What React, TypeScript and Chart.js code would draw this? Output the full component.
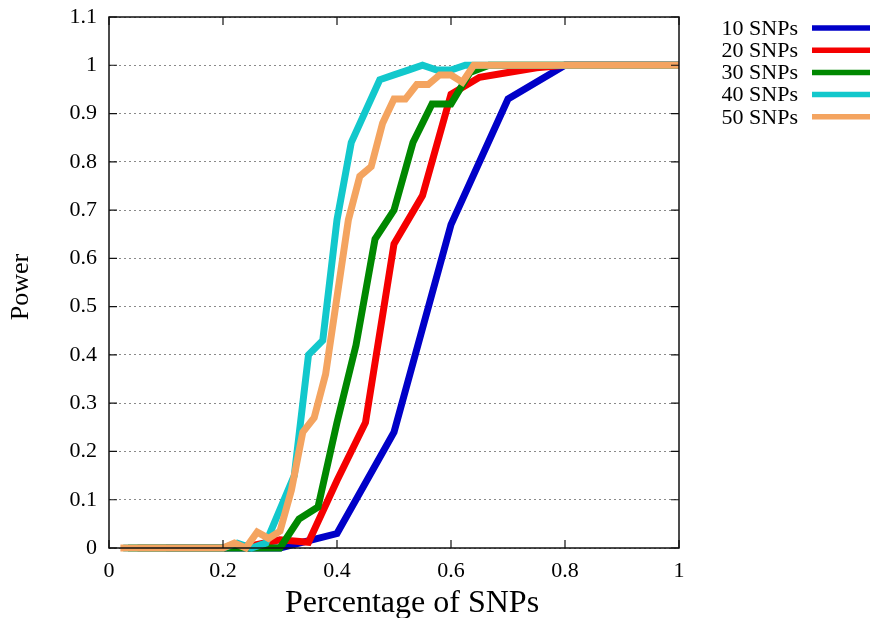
import React, { useEffect, useRef } from "react";
import { Chart, registerables } from "chart.js";

Chart.register(...registerables);

// ---------- data ----------
const seriesLabels = ["10 SNPs", "20 SNPs", "30 SNPs", "40 SNPs", "50 SNPs"];
const seriesColors = ["#0000c8", "#f50000", "#008800", "#12c8cc", "#f4a460"];

const x10 = [0.1, 0.2, 0.3, 0.4, 0.5, 0.6, 0.7, 0.8, 0.9, 1.0];
const power10 = [0, 0, 0, 0.03, 0.24, 0.67, 0.93, 1, 1, 1];

const x20 = [0.05, 0.1, 0.15, 0.2, 0.25, 0.3, 0.35, 0.4, 0.45, 0.5, 0.55, 0.6, 0.65, 0.7, 0.75, 0.8, 0.85, 0.9, 0.95, 1.0];
const power20 = [0, 0, 0, 0, 0.005, 0.017, 0.012, 0.14, 0.26, 0.63, 0.73, 0.94, 0.975, 0.985, 0.995, 1, 1, 1, 1, 1];

const x30 = [0.0333, 0.0667, 0.1, 0.1333, 0.1667, 0.2, 0.2333, 0.2667, 0.3, 0.3333, 0.3667, 0.4, 0.4333, 0.4667, 0.5, 0.5333, 0.5667, 0.6, 0.6333, 0.6667, 0.7, 0.7333, 0.7667, 0.8, 0.8333, 0.8667, 0.9, 0.9333, 0.9667, 1.0];
const power30 = [0, 0, 0, 0, 0, 0, 0, 0, 0, 0.06, 0.085, 0.26, 0.42, 0.64, 0.7, 0.84, 0.92, 0.92, 0.985, 1, 1, 1, 1, 1, 1, 1, 1, 1, 1, 1];

const x40 = [0.025, 0.05, 0.075, 0.1, 0.125, 0.15, 0.175, 0.2, 0.225, 0.25, 0.275, 0.3, 0.325, 0.35, 0.375, 0.4, 0.425, 0.45, 0.475, 0.5, 0.525, 0.55, 0.575, 0.6, 0.625, 0.65, 0.675, 0.7, 0.725, 0.75, 0.775, 0.8, 0.825, 0.85, 0.875, 0.9, 0.925, 0.95, 0.975, 1.0];
const power40 = [0, 0, 0, 0, 0, 0, 0, 0, 0.01, 0, 0.01, 0.08, 0.15, 0.4, 0.43, 0.68, 0.84, 0.905, 0.97, 0.98, 0.99, 1, 0.99, 0.99, 1, 1, 1, 1, 1, 1, 1, 1, 1, 1, 1, 1, 1, 1, 1, 1];

const x50 = [0.02, 0.04, 0.06, 0.08, 0.1, 0.12, 0.14, 0.16, 0.18, 0.2, 0.22, 0.24, 0.26, 0.28, 0.3, 0.32, 0.34, 0.36, 0.38, 0.4, 0.42, 0.44, 0.46, 0.48, 0.5, 0.52, 0.54, 0.56, 0.58, 0.6, 0.62, 0.64, 0.66, 0.68, 0.7, 0.72, 0.74, 0.76, 0.78, 0.8, 0.82, 0.84, 0.86, 0.88, 0.9, 0.92, 0.94, 0.96, 0.98, 1.0];
const power50 = [0, 0, 0, 0, 0, 0, 0, 0, 0, 0, 0.01, 0, 0.033, 0.02, 0.035, 0.12, 0.24, 0.27, 0.36, 0.52, 0.68, 0.77, 0.79, 0.88, 0.93, 0.93, 0.96, 0.96, 0.98, 0.98, 0.965, 1, 1, 1, 1, 1, 1, 1, 1, 1, 1, 1, 1, 1, 1, 1, 1, 1, 1, 1];

const seriesX = [x10, x20, x30, x40, x50];
const seriesY = [power10, power20, power30, power40, power50];

const xTickValues = [0, 0.2, 0.4, 0.6, 0.8, 1];
const yTickValues = [0, 0.1, 0.2, 0.3, 0.4, 0.5, 0.6, 0.7, 0.8, 0.9, 1, 1.1];
const xTickLabels = ["0", "0.2", "0.4", "0.6", "0.8", "1"];
const yTickLabels = ["0", "0.1", "0.2", "0.3", "0.4", "0.5", "0.6", "0.7", "0.8", "0.9", "1", "1.1"];

const xTitle = "Percentage of SNPs";
const yTitle = "Power";

const FONT = '"Liberation Serif", "Times New Roman", serif';

const decorPlugin = {
  id: "gnuplotDecor",
  afterDraw(chart: any) {
    const { ctx, chartArea: a, scales } = chart;
    ctx.save();
    // frame
    ctx.strokeStyle = "#111";
    ctx.lineWidth = 1.5;
    ctx.setLineDash([]);
    ctx.strokeRect(a.left, a.top, a.right - a.left, a.bottom - a.top);
    // inward ticks
    ctx.lineWidth = 1.2;
    const tl = 8;
    yTickValues.forEach((v) => {
      const py = scales.y.getPixelForValue(v);
      ctx.beginPath();
      ctx.moveTo(a.left, py);
      ctx.lineTo(a.left + tl, py);
      ctx.moveTo(a.right, py);
      ctx.lineTo(a.right - tl, py);
      ctx.stroke();
    });
    xTickValues.forEach((v) => {
      const px = scales.x.getPixelForValue(v);
      ctx.beginPath();
      ctx.moveTo(px, a.bottom);
      ctx.lineTo(px, a.bottom - tl);
      ctx.moveTo(px, a.top);
      ctx.lineTo(px, a.top + tl);
      ctx.stroke();
    });
    // legend
    ctx.font = `22px ${FONT}`;
    ctx.textAlign = "right";
    ctx.textBaseline = "middle";
    chart.data.datasets.forEach((ds: any, i: number) => {
      const y = 28 + i * 22.2;
      ctx.fillStyle = "#000";
      ctx.fillText(ds.label, 798, y + 1);
      ctx.strokeStyle = ds.borderColor;
      ctx.lineWidth = 5.5;
      ctx.beginPath();
      ctx.moveTo(812, y);
      ctx.lineTo(872, y);
      ctx.stroke();
    });
    // axis titles
    ctx.fillStyle = "#000";
    ctx.font = `32px ${FONT}`;
    ctx.textAlign = "center";
    ctx.textBaseline = "middle";
    ctx.fillText(xTitle, 412, 604);
    ctx.save();
    ctx.translate(21, 287);
    ctx.rotate(-Math.PI / 2);
    ctx.font = `26px ${FONT}`;
    ctx.fillText(yTitle, 0, 0);
    ctx.restore();
    ctx.restore();
  },
};

export default function App() {
  const ref = useRef<HTMLCanvasElement | null>(null);

  useEffect(() => {
    if (!ref.current) return;
    const datasets = seriesLabels.map((label, i) => ({
      label,
      data: seriesX[i].map((x, j) => ({ x, y: seriesY[i][j] })),
      borderColor: seriesColors[i],
      backgroundColor: seriesColors[i],
      borderWidth: 7,
      pointRadius: 0,
      borderJoinStyle: "miter" as const,
      borderCapStyle: "butt" as const,
      tension: 0,
      fill: false,
      clip: false as const,
      order: seriesLabels.length - i,
    }));

    const chart = new Chart(ref.current, {
      type: "line",
      data: { datasets },
      options: {
        animation: false,
        responsive: false,
        maintainAspectRatio: false,
        layout: { padding: { left: 0, top: 17, right: 191, bottom: 0 } },
        plugins: {
          legend: { display: false },
          tooltip: { enabled: false },
        },
        scales: {
          x: {
            type: "linear",
            min: 0,
            max: 1,
            afterFit: (s: any) => {
              s.height = 70;
              s.paddingLeft = 0;
              s.paddingRight = 0;
            },
            afterBuildTicks: (s: any) => {
              s.ticks = xTickValues.map((v) => ({ value: v }));
            },
            ticks: {
              padding: 10,
              color: "#000",
              font: { family: FONT, size: 22 },
              maxRotation: 0,
              autoSkip: false,
              callback: (v: any) => {
                const idx = xTickValues.findIndex((t) => Math.abs(t - v) < 1e-9);
                return idx >= 0 ? xTickLabels[idx] : "";
              },
            },
            grid: { display: false, drawTicks: false },
            border: { display: false },
          },
          y: {
            type: "linear",
            min: 0,
            max: 1.1,
            afterFit: (s: any) => {
              s.width = 109;
              s.paddingTop = 0;
              s.paddingBottom = 0;
            },
            afterBuildTicks: (s: any) => {
              s.ticks = yTickValues.map((v) => ({ value: v }));
            },
            ticks: {
              padding: 12,
              color: "#000",
              font: { family: FONT, size: 22 },
              autoSkip: false,
              callback: (v: any) => {
                const idx = yTickValues.findIndex((t) => Math.abs(t - v) < 1e-9);
                return idx >= 0 ? yTickLabels[idx] : "";
              },
            },
            grid: { display: true, drawTicks: false, color: "#8a8a8a", lineWidth: 1 },
            border: { display: false, dash: [2, 3] },
          },
        },
      },
      plugins: [decorPlugin],
    });
    return () => chart.destroy();
  }, []);

  return (
    <div style={{ position: "fixed", left: 0, top: 0, width: 870, height: 618, background: "#fff" }}>
      <canvas ref={ref} width={870} height={618} style={{ display: "block" }} />
    </div>
  );
}
